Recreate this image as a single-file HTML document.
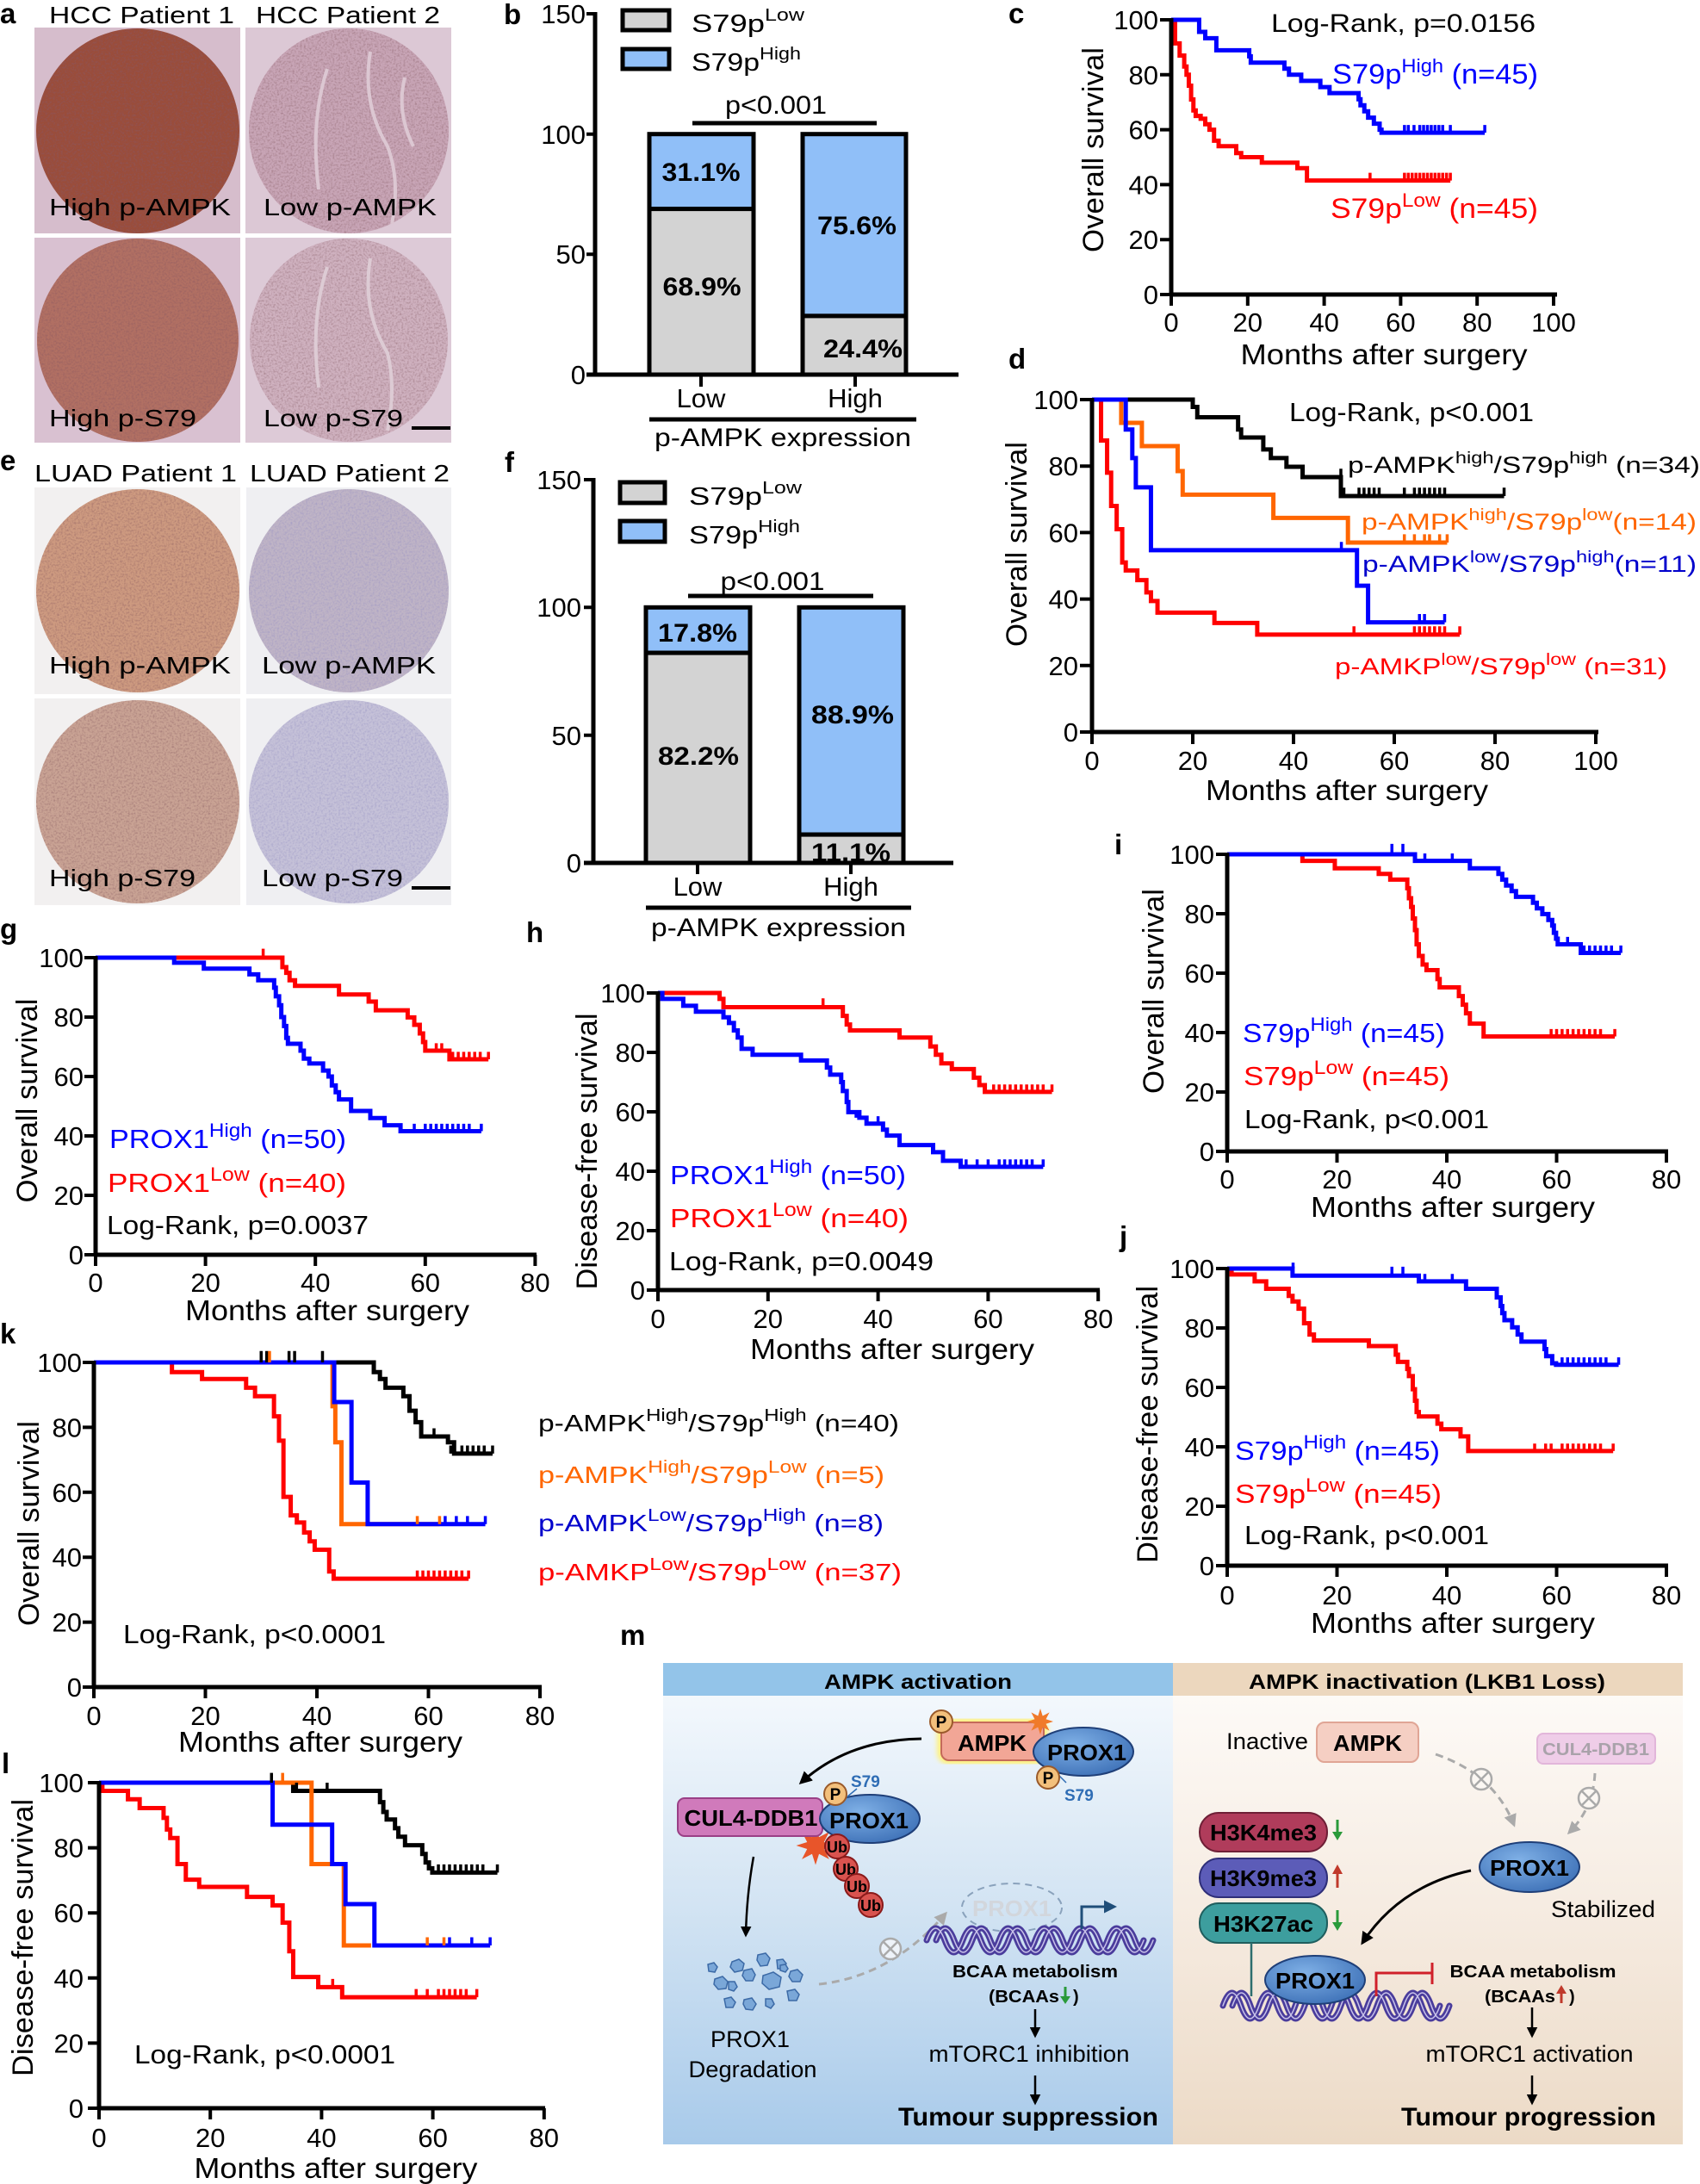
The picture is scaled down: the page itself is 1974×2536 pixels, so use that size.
<!DOCTYPE html>
<html><head><meta charset="utf-8">
<style>
html,body{margin:0;padding:0;background:#fff;}
svg{display:block;}
text{font-family:"Liberation Sans",sans-serif;}
.tk{font-size:31px;}
.km path{vector-effect:non-scaling-stroke;fill:none;stroke-width:5px;stroke-linejoin:miter;}
.cz path{vector-effect:non-scaling-stroke;fill:none;stroke-width:3.5px;}
.ax{stroke:#000;stroke-width:5;fill:none;}
.tm{stroke:#000;stroke-width:4;fill:none;}
.pl{font-weight:bold;font-size:33px;}
</style></head>
<body>
<svg width="1974" height="2536" viewBox="0 0 1974 2536" xmlns="http://www.w3.org/2000/svg">
<defs>
<linearGradient id="gl" x1="0" y1="0" x2="0" y2="1"><stop offset="0" stop-color="#f8fbfe"/><stop offset="0.5" stop-color="#d3e4f3"/><stop offset="1" stop-color="#a8caea"/></linearGradient>
<linearGradient id="gr" x1="0" y1="0" x2="0" y2="1"><stop offset="0" stop-color="#fefcfa"/><stop offset="0.5" stop-color="#f6ece2"/><stop offset="1" stop-color="#ecdac6"/></linearGradient>
<radialGradient id="el" cx="0.4" cy="0.35" r="0.7"><stop offset="0" stop-color="#7fb0e6"/><stop offset="1" stop-color="#3f72b8"/></radialGradient>
<marker id="ah" viewBox="0 0 10 10" refX="8" refY="5" markerWidth="5" markerHeight="5" orient="auto"><path d="M0,0 L10,5 L0,10 z" fill="#000"/></marker>
<marker id="ahg" viewBox="0 0 10 10" refX="8" refY="5" markerWidth="5" markerHeight="5" orient="auto"><path d="M0,0 L10,5 L0,10 z" fill="#aaa"/></marker>
<marker id="ahb" viewBox="0 0 10 10" refX="8" refY="5" markerWidth="5" markerHeight="5" orient="auto"><path d="M0,0 L10,5 L0,10 z" fill="#1f4e79"/></marker>
<filter id="blur"><feGaussianBlur stdDeviation="3"/></filter>
<filter id="grain" x="0" y="0" width="100%" height="100%">
<feTurbulence type="fractalNoise" baseFrequency="0.45" numOctaves="2" seed="5" result="n"/>
<feColorMatrix in="n" type="matrix" values="0 0 0 0 0.25  0 0 0 0 0.1  0 0 0 0 0.12  1.3 0 0 0 -0.55" result="dk"/>
<feComposite in="dk" in2="SourceGraphic" operator="in" result="d"/>
<feMerge><feMergeNode in="SourceGraphic"/><feMergeNode in="d"/></feMerge>
</filter>
<filter id="grainb" x="0" y="0" width="100%" height="100%">
<feTurbulence type="fractalNoise" baseFrequency="0.45" numOctaves="2" seed="9" result="n"/>
<feColorMatrix in="n" type="matrix" values="0 0 0 0 0.3  0 0 0 0 0.28  0 0 0 0 0.55  1.3 0 0 0 -0.55" result="dk"/>
<feComposite in="dk" in2="SourceGraphic" operator="in" result="d"/>
<feMerge><feMergeNode in="SourceGraphic"/><feMergeNode in="d"/></feMerge>
</filter>
</defs>
<rect width="1974" height="2536" fill="#fff"/>

<!-- ============ Panel a ============ -->
<text class="pl" x="0" y="27">a</text>
<text x="57" y="27" font-size="28" textLength="215" lengthAdjust="spacingAndGlyphs">HCC Patient 1</text>
<text x="297" y="27" font-size="28" textLength="214" lengthAdjust="spacingAndGlyphs">HCC Patient 2</text>
<rect x="40" y="32" width="239" height="239" fill="#d6bdcc"/>
<rect x="285" y="32" width="239" height="239" fill="#dcc8d5"/>
<rect x="40" y="276" width="239" height="238" fill="#d9c1d1"/>
<rect x="285" y="276" width="239" height="238" fill="#ddcad7"/>
<ellipse cx="160" cy="152" rx="118" ry="119" fill="#9a4d3b" filter="url(#grain)"/>
<ellipse cx="405" cy="152" rx="116" ry="119" fill="#c8a5b6" filter="url(#grain)"/>
<path d="M430,60 q-10,60 20,110 q15,40 5,90 M380,80 q-20,60 -10,140 M470,90 q-10,40 10,80" stroke="#dcc7d2" stroke-width="4" fill="none"/>
<ellipse cx="160" cy="395" rx="117" ry="118" fill="#b16f63" filter="url(#grain)"/>
<ellipse cx="405" cy="395" rx="115" ry="118" fill="#cfb1bf" filter="url(#grain)"/>
<path d="M430,300 q-10,60 20,110 q10,40 0,90 M380,310 q-20,60 -10,140" stroke="#ddcbd4" stroke-width="4" fill="none"/>
<text x="57" y="250" font-size="28" textLength="211" lengthAdjust="spacingAndGlyphs">High p-AMPK</text>
<text x="306" y="250" font-size="28" textLength="201" lengthAdjust="spacingAndGlyphs">Low p-AMPK</text>
<text x="57" y="495" font-size="28" textLength="171" lengthAdjust="spacingAndGlyphs">High p-S79</text>
<text x="306" y="495" font-size="28" textLength="162" lengthAdjust="spacingAndGlyphs">Low p-S79</text>
<rect x="478" y="495" width="45" height="4" fill="#000"/>

<!-- ============ Panel b ============ -->
<text class="pl" x="585" y="28">b</text>
<rect x="723" y="12" width="54" height="23" fill="#d3d3d3" stroke="#000" stroke-width="5"/>
<rect x="723" y="57" width="54" height="23" fill="#90bff8" stroke="#000" stroke-width="5"/>
<text x="803" y="37" font-size="29" textLength="131" lengthAdjust="spacingAndGlyphs">S79p<tspan dy="-13" font-size="20">Low</tspan></text>
<text x="803" y="82" font-size="29" textLength="127" lengthAdjust="spacingAndGlyphs">S79p<tspan dy="-13" font-size="20">High</tspan></text>
<text x="901" y="132" font-size="30" text-anchor="middle" textLength="118" lengthAdjust="spacingAndGlyphs">p&lt;0.001</text>
<path d="M804,143 H1018" class="ax"/>
<rect x="754" y="155.7" width="121" height="86.9" fill="#90bff8" stroke="#000" stroke-width="5"/>
<rect x="754" y="242.6" width="121" height="192.4" fill="#d3d3d3" stroke="#000" stroke-width="5"/>
<rect x="932" y="155.7" width="120" height="211.2" fill="#90bff8" stroke="#000" stroke-width="5"/>
<rect x="932" y="366.9" width="120" height="68.1" fill="#d3d3d3" stroke="#000" stroke-width="5"/>
<path d="M691,14 V437 M681,435 H1113" class="ax"/>
<path d="M681,16 H691 M681,155.7 H691 M681,295.3 H691 M814,435 V449 M993,435 V449" class="tm"/>
<g class="tk" text-anchor="end"><text x="680" y="27">150</text><text x="680" y="167">100</text><text x="680" y="306">50</text><text x="680" y="446">0</text></g>
<g font-weight="bold" font-size="30" text-anchor="middle">
<text x="814" y="210" textLength="91" lengthAdjust="spacingAndGlyphs">31.1%</text>
<text x="815" y="343" textLength="91" lengthAdjust="spacingAndGlyphs">68.9%</text>
<text x="995" y="272" textLength="92" lengthAdjust="spacingAndGlyphs">75.6%</text>
<text x="1002" y="415" textLength="92" lengthAdjust="spacingAndGlyphs">24.4%</text>
</g>
<g class="tk" text-anchor="middle"><text x="814" y="473">Low</text><text x="993" y="473">High</text></g>
<path d="M754,487 H1064" class="ax"/>
<text x="909" y="518" font-size="30" text-anchor="middle" textLength="298" lengthAdjust="spacingAndGlyphs">p-AMPK expression</text>

<!-- ============ Panel c ============ -->
<text class="pl" x="1171" y="27">c</text>
<text x="1476" y="37" font-size="30" textLength="307" lengthAdjust="spacingAndGlyphs">Log-Rank, p=0.0156</text>
<text x="1547" y="97" font-size="32" fill="#0000ff" textLength="239" lengthAdjust="spacingAndGlyphs">S79p<tspan dy="-13" font-size="22">High</tspan><tspan dy="13"> (n=45)</tspan></text>
<text x="1545" y="253" font-size="32" fill="#ff0000" textLength="241" lengthAdjust="spacingAndGlyphs">S79p<tspan dy="-13" font-size="22">Low</tspan><tspan dy="13"> (n=45)</tspan></text>
<text transform="translate(1281,174) rotate(-90)" font-size="34" text-anchor="middle" textLength="238" lengthAdjust="spacingAndGlyphs">Overall survival</text>
<text x="1607" y="423" font-size="33" text-anchor="middle" textLength="333" lengthAdjust="spacingAndGlyphs">Months after surgery</text>
<g class="km" transform="translate(1360,342) scale(4.44,-3.19)">
<path stroke="#ff0000" d="M0,100 H1 V91.4 H2.2 V87 H3.4 V83 H4 V80 H4.6 V76 H5.2 V71 H5.8 V67 H6.4 V65 H7.7 V64 H8.9 V62 H10 V60 H11.2 V56 H12.4 V54 H17 V51.5 H18.3 V50 H23.7 V48 H33 V46 H35.5 V41.5 H73"/>
<path stroke="#0000ff" d="M0,100 H7.3 V95.6 H8.9 V93.3 H11.8 V88.9 H20.4 V86.7 H20.8 V84.4 H29.6 V82.2 H30.8 V80 H34 V77.8 H39 V75.5 H41.4 V73.3 H49 V71.1 H49.5 V68.9 H50.5 V66.7 H51.5 V64.4 H53 V62.2 H54.5 V60 H55 V58.9 H82"/>
</g>
<g class="cz" transform="translate(1360,342) scale(4.44,-3.19)">
<path stroke="#0000ff" d="M61,58.9v2.8 M62,58.9v2.8 M63.5,58.9v2.8 M65,58.9v2.8 M66,58.9v2.8 M67,58.9v2.8 M68,58.9v2.8 M69,58.9v2.8 M70,58.9v2.8 M71,58.9v2.8 M73,58.9v2.8 M82,58.9v2.8"/>
<path stroke="#ff0000" d="M52,41.5v2.8 M61,41.5v2.8 M62,41.5v2.8 M63,41.5v2.8 M64,41.5v2.8 M65,41.5v2.8 M66,41.5v2.8 M67,41.5v2.8 M68,41.5v2.8 M69,41.5v2.8 M70,41.5v2.8 M71,41.5v2.8 M72,41.5v2.8 M73,41.5v2.8"/>
</g>
<path d="M1360,21 V344 M1358,342 H1808" class="ax"/>
<path d="M1347,23 H1360 M1347,86.8 H1360 M1347,150.6 H1360 M1347,214.4 H1360 M1347,278.2 H1360 M1347,342 H1360 M1360,342 V355 M1448.8,342 V355 M1537.6,342 V355 M1626.4,342 V355 M1715.2,342 V355 M1804,342 V355" class="tm"/>
<g class="tk" text-anchor="end"><text x="1345" y="34">100</text><text x="1345" y="97.8">80</text><text x="1345" y="161.6">60</text><text x="1345" y="225.4">40</text><text x="1345" y="289.2">20</text><text x="1345" y="353">0</text></g>
<g class="tk" text-anchor="middle"><text x="1360" y="385">0</text><text x="1448.8" y="385">20</text><text x="1537.6" y="385">40</text><text x="1626.4" y="385">60</text><text x="1715.2" y="385">80</text><text x="1804" y="385">100</text></g>

<!-- ============ Panel d ============ -->
<text class="pl" x="1171" y="428">d</text>
<text x="1497" y="489" font-size="31" textLength="284" lengthAdjust="spacingAndGlyphs">Log-Rank, p&lt;0.001</text>
<text x="1565" y="549" font-size="27" textLength="409" lengthAdjust="spacingAndGlyphs">p-AMPK<tspan dy="-11" font-size="19">high</tspan><tspan dy="11">/S79p</tspan><tspan dy="-11" font-size="19">high</tspan><tspan dy="11"> (n=34)</tspan></text>
<text x="1581" y="615" font-size="27" fill="#ff6600" textLength="389" lengthAdjust="spacingAndGlyphs">p-AMPK<tspan dy="-11" font-size="19">high</tspan><tspan dy="11">/S79p</tspan><tspan dy="-11" font-size="19">low</tspan><tspan dy="11">(n=14)</tspan></text>
<text x="1582" y="664" font-size="27" fill="#0000cc" textLength="388" lengthAdjust="spacingAndGlyphs">p-AMPK<tspan dy="-11" font-size="19">low</tspan><tspan dy="11">/S79p</tspan><tspan dy="-11" font-size="19">high</tspan><tspan dy="11">(n=11)</tspan></text>
<text x="1550" y="783" font-size="27" fill="#ff0000" textLength="386" lengthAdjust="spacingAndGlyphs">p-AMKP<tspan dy="-11" font-size="19">low</tspan><tspan dy="11">/S79p</tspan><tspan dy="-11" font-size="19">low</tspan><tspan dy="11"> (n=31)</tspan></text>
<text transform="translate(1192,632) rotate(-90)" font-size="34" text-anchor="middle" textLength="238" lengthAdjust="spacingAndGlyphs">Overall survival</text>
<text x="1564" y="929" font-size="33" text-anchor="middle" textLength="328" lengthAdjust="spacingAndGlyphs">Months after surgery</text>
<g class="km" transform="translate(1268,850) scale(5.85,-3.86)">
<path stroke="#000" d="M0,100 H20 V97.8 H20.9 V94.7 H29 V91 H29.6 V88.6 H34 V85 H35.5 V82.4 H38.6 V79.8 H41.8 V76.7 H49.4 V71 H81.8"/>
<path stroke="#ff6600" d="M0,100 H5.8 V93 H9.9 V86 H17 V78.5 H18 V71.4 H36 V64.4 H50.8 V57 H70.5"/>
<path stroke="#ff0000" d="M0,100 H1.8 V87.7 H3 V78 H3.8 V68 H4.9 V61 H6 V51 H6.7 V48.6 H9 V45.7 H10.8 V42 H11.7 V39.4 H13 V35.9 H24.3 V32.8 H32.8 V29.3 H73"/>
<path stroke="#0000ff" d="M0,100 H6.7 V91 H8 V82.4 H8.7 V73.6 H11.7 V54.7 H52.6 V44 H54.8 V33 H70"/>
</g>
<g class="cz" transform="translate(1268,850) scale(5.85,-3.86)">
<path stroke="#000" d="M50,71v2.5 M53,71v2.5 M54,71v2.5 M55,71v2.5 M56,71v2.5 M57,71v2.5 M62,71v2.5 M64,71v2.5 M65,71v2.5 M66,71v2.5 M67,71v2.5 M68,71v2.5 M69,71v2.5 M70,71v2.5 M81.8,71v2.5 M49.4,76.7v2.5"/>
<path stroke="#ff6600" d="M62,57v2.5 M64,57v2.5 M66,57v2.5 M67,57v2.5 M69,57v2.5 M70.5,57v2.5"/>
<path stroke="#0000ff" d="M49.5,54.7v2.5 M65,33v2.5 M66,33v2.5 M70,33v2.5"/>
<path stroke="#ff0000" d="M52,29.3v2.5 M64,29.3v2.5 M65,29.3v2.5 M66,29.3v2.5 M67,29.3v2.5 M68,29.3v2.5 M69,29.3v2.5 M70,29.3v2.5 M73,29.3v2.5"/>
</g>
<path d="M1268,462 V852 M1266,850 H1856" class="ax"/>
<path d="M1254,464 H1268 M1254,541.2 H1268 M1254,618.4 H1268 M1254,695.6 H1268 M1254,772.8 H1268 M1254,850 H1268 M1268,850 V864 M1385,850 V864 M1502,850 V864 M1619,850 V864 M1736,850 V864 M1853,850 V864" class="tm"/>
<g class="tk" text-anchor="end"><text x="1252" y="475">100</text><text x="1252" y="552.2">80</text><text x="1252" y="629.4">60</text><text x="1252" y="706.6">40</text><text x="1252" y="783.8">20</text><text x="1252" y="861">0</text></g>
<g class="tk" text-anchor="middle"><text x="1268" y="894">0</text><text x="1385" y="894">20</text><text x="1502" y="894">40</text><text x="1619" y="894">60</text><text x="1736" y="894">80</text><text x="1853" y="894">100</text></g>

<!-- ============ Panel e ============ -->
<text class="pl" x="0" y="546">e</text>
<text x="40" y="559" font-size="28" textLength="235" lengthAdjust="spacingAndGlyphs">LUAD Patient 1</text>
<text x="290" y="559" font-size="28" textLength="232" lengthAdjust="spacingAndGlyphs">LUAD Patient 2</text>
<rect x="40" y="566" width="239" height="240" fill="#f2f0f0"/>
<rect x="286" y="566" width="238" height="240" fill="#efeff2"/>
<rect x="40" y="811" width="239" height="240" fill="#f2f0f0"/>
<rect x="286" y="811" width="238" height="240" fill="#efeff2"/>
<ellipse cx="160" cy="686" rx="118" ry="118" fill="#cd9a80" filter="url(#grain)"/>
<ellipse cx="405" cy="686" rx="116" ry="118" fill="#bfb4c6" filter="url(#grainb)"/>
<ellipse cx="160" cy="931" rx="118" ry="118" fill="#c9a394" filter="url(#grain)"/>
<ellipse cx="405" cy="931" rx="116" ry="118" fill="#c5c1d8" filter="url(#grainb)"/>
<text x="57" y="782" font-size="28" textLength="211" lengthAdjust="spacingAndGlyphs">High p-AMPK</text>
<text x="304" y="782" font-size="28" textLength="202" lengthAdjust="spacingAndGlyphs">Low p-AMPK</text>
<text x="57" y="1029" font-size="28" textLength="170" lengthAdjust="spacingAndGlyphs">High p-S79</text>
<text x="304" y="1029" font-size="28" textLength="164" lengthAdjust="spacingAndGlyphs">Low p-S79</text>
<rect x="478" y="1029" width="45" height="4" fill="#000"/>

<!-- ============ Panel f ============ -->
<text class="pl" x="586" y="548">f</text>
<rect x="720" y="560" width="52" height="24" fill="#d3d3d3" stroke="#000" stroke-width="5"/>
<rect x="720" y="605" width="52" height="24" fill="#90bff8" stroke="#000" stroke-width="5"/>
<text x="800" y="586" font-size="29" textLength="131" lengthAdjust="spacingAndGlyphs">S79p<tspan dy="-13" font-size="20">Low</tspan></text>
<text x="800" y="631" font-size="29" textLength="129" lengthAdjust="spacingAndGlyphs">S79p<tspan dy="-13" font-size="20">High</tspan></text>
<text x="897" y="685" font-size="30" text-anchor="middle" textLength="121" lengthAdjust="spacingAndGlyphs">p&lt;0.001</text>
<path d="M799,692 H1014" class="ax"/>
<rect x="750" y="705.3" width="121" height="52.8" fill="#90bff8" stroke="#000" stroke-width="5"/>
<rect x="750" y="758.1" width="121" height="243.9" fill="#d3d3d3" stroke="#000" stroke-width="5"/>
<rect x="928" y="705.3" width="121" height="263.8" fill="#90bff8" stroke="#000" stroke-width="5"/>
<rect x="928" y="969.1" width="121" height="32.9" fill="#d3d3d3" stroke="#000" stroke-width="5"/>
<path d="M689,555 V1004 M678,1002 H1107" class="ax"/>
<path d="M678,557 H689 M678,705.3 H689 M678,853.7 H689 M810,1002 V1015 M988,1002 V1015" class="tm"/>
<g class="tk" text-anchor="end"><text x="675" y="568">150</text><text x="675" y="716">100</text><text x="675" y="865">50</text><text x="675" y="1013">0</text></g>
<g font-weight="bold" font-size="30" text-anchor="middle">
<text x="810" y="745" textLength="92" lengthAdjust="spacingAndGlyphs">17.8%</text>
<text x="811" y="888" textLength="94" lengthAdjust="spacingAndGlyphs">82.2%</text>
<text x="990" y="840" textLength="96" lengthAdjust="spacingAndGlyphs">88.9%</text>
<text x="988" y="1000" textLength="92" lengthAdjust="spacingAndGlyphs">11.1%</text>
</g>
<g class="tk" text-anchor="middle"><text x="810" y="1040">Low</text><text x="988" y="1040">High</text></g>
<path d="M750,1054 H1058" class="ax"/>
<text x="904" y="1087" font-size="30" text-anchor="middle" textLength="296" lengthAdjust="spacingAndGlyphs">p-AMPK expression</text>

<!-- ============ Panel g ============ -->
<text class="pl" x="0" y="1090">g</text>
<text x="127" y="1333" font-size="31" fill="#0000ff" textLength="275" lengthAdjust="spacingAndGlyphs">PROX1<tspan dy="-13" font-size="22">High</tspan><tspan dy="13"> (n=50)</tspan></text>
<text x="125" y="1384" font-size="31" fill="#ff0000" textLength="277" lengthAdjust="spacingAndGlyphs">PROX1<tspan dy="-13" font-size="22">Low</tspan><tspan dy="13"> (n=40)</tspan></text>
<text x="124" y="1433" font-size="31" textLength="304" lengthAdjust="spacingAndGlyphs">Log-Rank, p=0.0037</text>
<text transform="translate(43,1278) rotate(-90)" font-size="34" text-anchor="middle" textLength="237" lengthAdjust="spacingAndGlyphs">Overall survival</text>
<text x="380" y="1533" font-size="33" text-anchor="middle" textLength="330" lengthAdjust="spacingAndGlyphs">Months after surgery</text>
<g class="km" transform="translate(111,1457) scale(6.38,-3.45)">
<path stroke="#ff0000" d="M0,100 H34 V96.8 H34.7 V94.9 H35.3 V92.4 H36.3 V90.5 H44.3 V87.6 H49.7 V85.2 H51 V82.3 H56.8 V79.9 H58 V77.4 H59 V74.5 H59.6 V71.6 H60 V68.7 H64.4 V65.8 H71.5"/>
<path stroke="#0000ff" d="M0,100 H14.3 V98.3 H19.7 V96.3 H28 V94.4 H29.6 V92.4 H32.5 V89.9 H32.8 V87 H33.4 V84 H33.8 V80 H34.3 V77 H34.7 V73 H35 V71 H37.3 V68.7 H37.9 V66 H38.9 V64.4 H41.4 V62 H42.4 V60 H43 V57 H43.7 V54.7 H44.3 V52.3 H46.5 V48.4 H50 V46 H52.6 V43.6 H55.5 V41.6 H70.2"/>
</g>
<g class="cz" transform="translate(111,1457) scale(6.38,-3.45)">
<path stroke="#ff0000" d="M30.5,100v3 M62,68.7v2.5 M63,68.7v2.5 M65,65.8v2.5 M66,65.8v2.5 M67,65.8v2.5 M68,65.8v2.5 M69,65.8v2.5 M70,65.8v2.5 M71.5,65.8v2.5"/>
<path stroke="#0000ff" d="M58,41.6v2.5 M60,41.6v2.5 M61,41.6v2.5 M62,41.6v2.5 M63,41.6v2.5 M64,41.6v2.5 M65,41.6v2.5 M66,41.6v2.5 M67,41.6v2.5 M68,41.6v2.5 M70.2,41.6v2.5"/>
</g>
<path d="M111,1110 V1459 M109,1457 H623" class="ax"/>
<path d="M98,1112 H111 M98,1181 H111 M98,1250 H111 M98,1319 H111 M98,1388 H111 M98,1457 H111 M111,1457 V1470 M238.6,1457 V1470 M366.2,1457 V1470 M493.8,1457 V1470 M621.4,1457 V1470" class="tm"/>
<g class="tk" text-anchor="end"><text x="97" y="1123">100</text><text x="97" y="1192">80</text><text x="97" y="1261">60</text><text x="97" y="1330">40</text><text x="97" y="1399">20</text><text x="97" y="1468">0</text></g>
<g class="tk" text-anchor="middle"><text x="111" y="1500">0</text><text x="238.6" y="1500">20</text><text x="366.2" y="1500">40</text><text x="493.8" y="1500">60</text><text x="621.4" y="1500">80</text></g>

<!-- ============ Panel h ============ -->
<text class="pl" x="611" y="1094">h</text>
<text x="778" y="1375" font-size="31" fill="#0000ff" textLength="274" lengthAdjust="spacingAndGlyphs">PROX1<tspan dy="-13" font-size="22">High</tspan><tspan dy="13"> (n=50)</tspan></text>
<text x="778" y="1425" font-size="31" fill="#ff0000" textLength="277" lengthAdjust="spacingAndGlyphs">PROX1<tspan dy="-13" font-size="22">Low</tspan><tspan dy="13"> (n=40)</tspan></text>
<text x="777" y="1475" font-size="31" textLength="307" lengthAdjust="spacingAndGlyphs">Log-Rank, p=0.0049</text>
<text transform="translate(693,1337) rotate(-90)" font-size="34" text-anchor="middle" textLength="321" lengthAdjust="spacingAndGlyphs">Disease-free survival</text>
<text x="1036" y="1578" font-size="33" text-anchor="middle" textLength="330" lengthAdjust="spacingAndGlyphs">Months after surgery</text>
<g class="km" transform="translate(764,1498) scale(6.39,-3.45)">
<path stroke="#ff0000" d="M0,100 H11.2 V98 H11.9 V95.2 H33.6 V92.3 H34.3 V89.4 H34.9 V87.4 H43.9 V85 H49.5 V82 H50.5 V79.2 H51.5 V76.3 H53.4 V74.4 H57.4 V71.5 H58.4 V69 H59.4 V66.7 H71.6"/>
<path stroke="#0000ff" d="M0,100 H0.8 V98 H4.6 V95.7 H6.9 V93.7 H11.9 V91.8 H12.9 V89.9 H13.8 V87.4 H14.5 V85 H15.2 V81.2 H17.2 V79.2 H26 V77.3 H30.7 V74.9 H31.3 V72.5 H33.3 V70 H33.6 V67 H34.3 V63.3 H34.6 V59.9 H36.6 V58 H37.9 V56 H40.9 V54 H41.6 V52 H43.9 V48.8 H50 V46.4 H51.8 V43.5 H55 V41.5 H70"/>
</g>
<g class="cz" transform="translate(764,1498) scale(6.39,-3.45)">
<path stroke="#ff0000" d="M30,95.2v3 M61,66.7v2.5 M62,66.7v2.5 M63,66.7v2.5 M64,66.7v2.5 M65,66.7v2.5 M66,66.7v2.5 M67,66.7v2.5 M68,66.7v2.5 M69,66.7v2.5 M70,66.7v2.5 M71.6,66.7v2.5"/>
<path stroke="#0000ff" d="M36,58v2.5 M40,56v2.5 M56,41.5v2.5 M58,41.5v2.5 M60,41.5v2.5 M62,41.5v2.5 M63,41.5v2.5 M64,41.5v2.5 M65,41.5v2.5 M66,41.5v2.5 M67,41.5v2.5 M68,41.5v2.5 M70,41.5v2.5"/>
</g>
<path d="M764,1151 V1500 M762,1498 H1277" class="ax"/>
<path d="M751,1153 H764 M751,1222 H764 M751,1291 H764 M751,1360 H764 M751,1429 H764 M751,1498 H764 M764,1498 V1511 M891.8,1498 V1511 M1019.6,1498 V1511 M1147.4,1498 V1511 M1275.2,1498 V1511" class="tm"/>
<g class="tk" text-anchor="end"><text x="749" y="1164">100</text><text x="749" y="1233">80</text><text x="749" y="1302">60</text><text x="749" y="1371">40</text><text x="749" y="1440">20</text><text x="749" y="1509">0</text></g>
<g class="tk" text-anchor="middle"><text x="764" y="1542">0</text><text x="891.8" y="1542">20</text><text x="1019.6" y="1542">40</text><text x="1147.4" y="1542">60</text><text x="1275.2" y="1542">80</text></g>

<!-- ============ Panel i ============ -->
<text class="pl" x="1294" y="992">i</text>
<text x="1443" y="1210" font-size="31" fill="#0000ff" textLength="235" lengthAdjust="spacingAndGlyphs">S79p<tspan dy="-13" font-size="22">High</tspan><tspan dy="13"> (n=45)</tspan></text>
<text x="1444" y="1260" font-size="31" fill="#ff0000" textLength="239" lengthAdjust="spacingAndGlyphs">S79p<tspan dy="-13" font-size="22">Low</tspan><tspan dy="13"> (n=45)</tspan></text>
<text x="1445" y="1310" font-size="31" textLength="284" lengthAdjust="spacingAndGlyphs">Log-Rank, p&lt;0.001</text>
<text transform="translate(1351,1151) rotate(-90)" font-size="34" text-anchor="middle" textLength="238" lengthAdjust="spacingAndGlyphs">Overall survival</text>
<text x="1687" y="1413" font-size="33" text-anchor="middle" textLength="330" lengthAdjust="spacingAndGlyphs">Months after surgery</text>
<g class="km" transform="translate(1425,1337) scale(6.375,-3.45)">
<path stroke="#ff0000" d="M0,100 H13.7 V97.8 H19.6 V95.3 H27.6 V93.4 H29.7 V91.5 H32.8 V88.6 H33.1 V85.2 H33.5 V82.3 H33.8 V78.4 H34.2 V74.5 H34.5 V69.7 H34.9 V65.8 H35.6 V62.9 H36.3 V61 H38.3 V58 H38.7 V55.2 H42.2 V52.3 H42.9 V49.4 H43.5 V46.5 H44.2 V43 H46.7 V38.7 H70.6"/>
<path stroke="#0000ff" d="M0,100 H34.2 V97.8 H44.2 V95.3 H49.4 V93.4 H50.1 V91.5 H50.8 V89.5 H51.8 V87.6 H52.6 V85.7 H55.7 V83.7 H56.4 V81.8 H57.4 V79.9 H58.5 V77.9 H59.2 V76 H59.5 V73.6 H59.9 V71.6 H60.2 V69.7 H64.4 V66.8 H71.7"/>
</g>
<g class="cz" transform="translate(1425,1337) scale(6.375,-3.45)">
<path stroke="#0000ff" d="M30,100v3.5 M32,100v3.5 M36,97.8v2.5 M41,97.8v2.5 M62,69.7v2.5 M65,66.8v2.5 M66,66.8v2.5 M67,66.8v2.5 M68,66.8v2.5 M69,66.8v2.5 M70,66.8v2.5 M71.7,66.8v2.5"/>
<path stroke="#ff0000" d="M59,38.7v2.5 M60,38.7v2.5 M61,38.7v2.5 M62,38.7v2.5 M63,38.7v2.5 M64,38.7v2.5 M65,38.7v2.5 M66,38.7v2.5 M67,38.7v2.5 M68,38.7v2.5 M70.6,38.7v2.5"/>
</g>
<path d="M1425,990 V1339 M1423,1337 H1937" class="ax"/>
<path d="M1412,992 H1425 M1412,1061 H1425 M1412,1130 H1425 M1412,1199 H1425 M1412,1268 H1425 M1412,1337 H1425 M1425,1337 V1350 M1552.5,1337 V1350 M1680,1337 V1350 M1807.5,1337 V1350 M1935,1337 V1350" class="tm"/>
<g class="tk" text-anchor="end"><text x="1410" y="1003">100</text><text x="1410" y="1072">80</text><text x="1410" y="1141">60</text><text x="1410" y="1210">40</text><text x="1410" y="1279">20</text><text x="1410" y="1348">0</text></g>
<g class="tk" text-anchor="middle"><text x="1425" y="1380">0</text><text x="1552.5" y="1380">20</text><text x="1680" y="1380">40</text><text x="1807.5" y="1380">60</text><text x="1935" y="1380">80</text></g>

<!-- ============ Panel j ============ -->
<text class="pl" x="1300" y="1447">j</text>
<text x="1434" y="1695" font-size="31" fill="#0000ff" textLength="238" lengthAdjust="spacingAndGlyphs">S79p<tspan dy="-13" font-size="22">High</tspan><tspan dy="13"> (n=45)</tspan></text>
<text x="1434" y="1745" font-size="31" fill="#ff0000" textLength="240" lengthAdjust="spacingAndGlyphs">S79p<tspan dy="-13" font-size="22">Low</tspan><tspan dy="13"> (n=45)</tspan></text>
<text x="1445" y="1793" font-size="31" textLength="284" lengthAdjust="spacingAndGlyphs">Log-Rank, p&lt;0.001</text>
<text transform="translate(1344,1654) rotate(-90)" font-size="34" text-anchor="middle" textLength="322" lengthAdjust="spacingAndGlyphs">Disease-free survival</text>
<text x="1687" y="1896" font-size="33" text-anchor="middle" textLength="330" lengthAdjust="spacingAndGlyphs">Months after surgery</text>
<g class="km" transform="translate(1425,1818) scale(6.375,-3.45)">
<path stroke="#ff0000" d="M0,100 H0.8 V98 H5 V95.7 H7.1 V93.2 H11.2 V90.8 H11.9 V88.9 H13 V86.5 H14 V81.6 H15 V77.8 H15.8 V75.8 H25.8 V73.9 H30.7 V71 H31.1 V68.6 H32.8 V66.2 H33.1 V63.8 H33.8 V59.4 H34.2 V55.5 H34.5 V51.7 H34.9 V50.2 H38.3 V47.8 H39 V45.9 H42.5 V43.5 H43.9 V38.6 H70.3"/>
<path stroke="#0000ff" d="M0,100 H11.9 V97.6 H34.9 V95.7 H43.5 V93.2 H49.1 V90.3 H49.8 V87.4 H50.1 V85 H50.5 V82.6 H51.9 V80.2 H52.9 V77.8 H53.6 V75.4 H57.8 V72.9 H58.1 V70.5 H59.2 V68.1 H59.9 V67.6 H71.3"/>
</g>
<g class="cz" transform="translate(1425,1818) scale(6.375,-3.45)">
<path stroke="#0000ff" d="M12,100v2 M30,97.6v3 M32,97.6v3 M36,95.7v2.5 M41,95.7v2.5 M61,67.6v2.5 M62,67.6v2.5 M63,67.6v2.5 M64,67.6v2.5 M65,67.6v2.5 M66,67.6v2.5 M67,67.6v2.5 M68,67.6v2.5 M69,67.6v2.5 M71.3,67.6v2.5"/>
<path stroke="#ff0000" d="M56,38.6v2.5 M58,38.6v2.5 M59,38.6v2.5 M61,38.6v2.5 M62,38.6v2.5 M63,38.6v2.5 M64,38.6v2.5 M65,38.6v2.5 M66,38.6v2.5 M67,38.6v2.5 M68,38.6v2.5 M70.3,38.6v2.5"/>
</g>
<path d="M1425,1471 V1820 M1423,1818 H1937" class="ax"/>
<path d="M1412,1473 H1425 M1412,1542 H1425 M1412,1611 H1425 M1412,1680 H1425 M1412,1749 H1425 M1412,1818 H1425 M1425,1818 V1831 M1552.5,1818 V1831 M1680,1818 V1831 M1807.5,1818 V1831 M1935,1818 V1831" class="tm"/>
<g class="tk" text-anchor="end"><text x="1410" y="1484">100</text><text x="1410" y="1553">80</text><text x="1410" y="1622">60</text><text x="1410" y="1691">40</text><text x="1410" y="1760">20</text><text x="1410" y="1829">0</text></g>
<g class="tk" text-anchor="middle"><text x="1425" y="1863">0</text><text x="1552.5" y="1863">20</text><text x="1680" y="1863">40</text><text x="1807.5" y="1863">60</text><text x="1935" y="1863">80</text></g>

<!-- ============ Panel k ============ -->
<text class="pl" x="0" y="1560">k</text>
<text x="625" y="1662" font-size="28" textLength="419" lengthAdjust="spacingAndGlyphs">p-AMPK<tspan dy="-12" font-size="20">High</tspan><tspan dy="12">/S79p</tspan><tspan dy="-12" font-size="20">High</tspan><tspan dy="12"> (n=40)</tspan></text>
<text x="625" y="1722" font-size="28" fill="#ff6600" textLength="402" lengthAdjust="spacingAndGlyphs">p-AMPK<tspan dy="-12" font-size="20">High</tspan><tspan dy="12">/S79p</tspan><tspan dy="-12" font-size="20">Low</tspan><tspan dy="12"> (n=5)</tspan></text>
<text x="625" y="1778" font-size="28" fill="#0000cc" textLength="401" lengthAdjust="spacingAndGlyphs">p-AMPK<tspan dy="-12" font-size="20">Low</tspan><tspan dy="12">/S79p</tspan><tspan dy="-12" font-size="20">High</tspan><tspan dy="12"> (n=8)</tspan></text>
<text x="625" y="1835" font-size="28" fill="#ff0000" textLength="422" lengthAdjust="spacingAndGlyphs">p-AMKP<tspan dy="-12" font-size="20">Low</tspan><tspan dy="12">/S79p</tspan><tspan dy="-12" font-size="20">Low</tspan><tspan dy="12"> (n=37)</tspan></text>
<text x="143" y="1908" font-size="31" textLength="305" lengthAdjust="spacingAndGlyphs">Log-Rank, p&lt;0.0001</text>
<text transform="translate(45,1769) rotate(-90)" font-size="34" text-anchor="middle" textLength="238" lengthAdjust="spacingAndGlyphs">Overall survival</text>
<text x="372" y="2034" font-size="33" text-anchor="middle" textLength="330" lengthAdjust="spacingAndGlyphs">Months after surgery</text>
<g class="km" transform="translate(109,1959) scale(6.475,-3.77)">
<path stroke="#000" d="M0,100 H50.2 V97 H51.3 V94.9 H52.3 V92.2 H55.5 V89.6 H56.6 V85.1 H57.7 V81.6 H58.7 V77.2 H63.5 V75.4 H64.6 V71.9 H71.5"/>
<path stroke="#ff0000" d="M0,100 H14 V97 H19.4 V94.9 H27.3 V92.2 H28.9 V89.6 H32.3 V83.4 H33.2 V75.9 H34 V58.6 H35.3 V52.9 H36.4 V50.7 H37.7 V47.6 H38.7 V44.9 H39.6 V42.3 H42.2 V35.6 H43 V33.4 H67.2"/>
<path stroke="#ff6600" d="M0,100 H42.8 V86.5 H43.3 V75.4 H44.4 V50.2 H62"/>
<path stroke="#0000ff" d="M0,100 H43.1 V87.8 H46.2 V63 H49.1 V50.2 H70.2"/>
</g>
<g class="cz" transform="translate(109,1959) scale(6.475,-3.77)">
<path stroke="#000" d="M30,100v3.5 M31,100v3.5 M35,100v3.5 M36,100v3.5 M41,100v3.5 M64,71.9v2.5 M66,71.9v2.5 M67,71.9v2.5 M68,71.9v2.5 M69,71.9v2.5 M70,71.9v2.5 M71.5,71.9v2.5 M61,77.2v2.5"/>
<path stroke="#ff6600" d="M31.5,100v3.5 M58,50.2v2.5 M62,50.2v2.5"/>
<path stroke="#0000ff" d="M63,50.2v2.5 M65,50.2v2.5 M67,50.2v2.5 M70.2,50.2v2.5"/>
<path stroke="#ff0000" d="M58,33.4v2.5 M59,33.4v2.5 M60,33.4v2.5 M61,33.4v2.5 M62,33.4v2.5 M63,33.4v2.5 M64,33.4v2.5 M65,33.4v2.5 M66,33.4v2.5 M67.2,33.4v2.5"/>
</g>
<path d="M109,1580 V1961 M107,1959 H629" class="ax"/>
<path d="M96,1582 H109 M96,1657.4 H109 M96,1732.8 H109 M96,1808.2 H109 M96,1883.6 H109 M96,1959 H109 M109,1959 V1972 M238.5,1959 V1972 M368,1959 V1972 M497.5,1959 V1972 M627,1959 V1972" class="tm"/>
<g class="tk" text-anchor="end"><text x="95" y="1593">100</text><text x="95" y="1668.4">80</text><text x="95" y="1743.8">60</text><text x="95" y="1819.2">40</text><text x="95" y="1894.6">20</text><text x="95" y="1970">0</text></g>
<g class="tk" text-anchor="middle"><text x="109" y="2003">0</text><text x="238.5" y="2003">20</text><text x="368" y="2003">40</text><text x="497.5" y="2003">60</text><text x="627" y="2003">80</text></g>

<!-- ============ Panel l ============ -->
<text class="pl" x="2" y="2059">l</text>
<text x="156" y="2396" font-size="31" textLength="303" lengthAdjust="spacingAndGlyphs">Log-Rank, p&lt;0.0001</text>
<text transform="translate(38,2250) rotate(-90)" font-size="34" text-anchor="middle" textLength="322" lengthAdjust="spacingAndGlyphs">Disease-free survival</text>
<text x="390" y="2529" font-size="33" text-anchor="middle" textLength="329" lengthAdjust="spacingAndGlyphs">Months after surgery</text>
<g class="km" transform="translate(115,2448) scale(6.46,-3.78)">
<path stroke="#000" d="M0,100 H34.9 V97.5 H50.5 V94 H51.1 V91 H51.7 V88.7 H53.2 V86 H53.8 V83.4 H55 V80.8 H58.1 V78.1 H58.7 V75.5 H59.3 V73.7 H59.9 V72.4 H71.6"/>
<path stroke="#ff6600" d="M0,100 H38.2 V75 H44 V50 H48.9"/>
<path stroke="#ff0000" d="M0,100 H0.6 V97.5 H5.2 V94.9 H7.3 V92.2 H11.6 V89.2 H12.2 V85.6 H12.8 V83 H14.1 V75 H15.6 V70.2 H18 V68 H26.6 V64.9 H31.2 V62.3 H33 V57 H34.2 V48.2 H34.9 V40.3 H39.4 V37.2 H43.7 V34.1 H67.9"/>
<path stroke="#0000ff" d="M0,100 H31.2 V87.1 H41.9 V75 H44.3 V62.7 H49.5 V50 H70.3"/>
</g>
<g class="cz" transform="translate(115,2448) scale(6.46,-3.78)">
<path stroke="#000" d="M31,100v3 M35.5,97.5v2.5 M41,97.5v2.5 M61,72.4v2.5 M62,72.4v2.5 M63,72.4v2.5 M64,72.4v2.5 M65,72.4v2.5 M66,72.4v2.5 M67,72.4v2.5 M68,72.4v2.5 M69,72.4v2.5 M71.6,72.4v2.5"/>
<path stroke="#ff6600" d="M33,100v3 M59,50v2.5 M62,50v2.5"/>
<path stroke="#0000ff" d="M63,50v2.5 M67,50v2.5 M70.3,50v2.5"/>
<path stroke="#ff0000" d="M42,37.2v2.5 M57,34.1v2.5 M59,34.1v2.5 M61,34.1v2.5 M62,34.1v2.5 M63,34.1v2.5 M64,34.1v2.5 M65,34.1v2.5 M66,34.1v2.5 M67.9,34.1v2.5"/>
</g>
<path d="M115,2068 V2450 M113,2448 H633" class="ax"/>
<path d="M102,2070 H115 M102,2145.6 H115 M102,2221.2 H115 M102,2296.8 H115 M102,2372.4 H115 M102,2448 H115 M115,2448 V2461 M244.2,2448 V2461 M373.4,2448 V2461 M502.6,2448 V2461 M631.8,2448 V2461" class="tm"/>
<g class="tk" text-anchor="end"><text x="97" y="2081">100</text><text x="97" y="2156.6">80</text><text x="97" y="2232.2">60</text><text x="97" y="2307.8">40</text><text x="97" y="2383.4">20</text><text x="97" y="2459">0</text></g>
<g class="tk" text-anchor="middle"><text x="115" y="2493">0</text><text x="244.2" y="2493">20</text><text x="373.4" y="2493">40</text><text x="502.6" y="2493">60</text><text x="631.8" y="2493">80</text></g>

<!-- ============ Panel m ============ -->
<text class="pl" x="720" y="1910">m</text>
<rect x="770" y="1931" width="592" height="559" fill="url(#gl)"/>
<rect x="770" y="1931" width="592" height="38" fill="#93c4e9"/>
<text x="1066" y="1961" text-anchor="middle" font-weight="bold" font-size="24" textLength="218" lengthAdjust="spacingAndGlyphs">AMPK activation</text>
<rect x="1362" y="1931" width="592" height="559" fill="url(#gr)"/>
<rect x="1362" y="1931" width="592" height="38" fill="#ecd7be"/>
<text x="1657" y="1961" text-anchor="middle" font-weight="bold" font-size="24" textLength="414" lengthAdjust="spacingAndGlyphs">AMPK inactivation (LKB1 Loss)</text>

<!-- left diagram -->
<path d="M1070,2019 Q985,2020 930,2070" stroke="#000" stroke-width="3" fill="none" marker-end="url(#ah)"/>
<rect x="1093" y="2000" width="119" height="44" rx="9" fill="none" stroke="#fff17a" stroke-width="10" filter="url(#blur)"/>
<rect x="1093" y="2000" width="119" height="44" rx="9" fill="#f2a696" stroke="#c46a5a" stroke-width="2"/>
<g transform="translate(1208,1999)"><polygon points="15,0 6.5,2.7 10.6,10.6 2.7,6.5 0,15 -2.7,6.5 -10.6,10.6 -6.5,2.7 -15,0 -6.5,-2.7 -10.6,-10.6 -2.7,-6.5 0,-15 2.7,-6.5 10.6,-10.6 6.5,-2.7" fill="#f07a2a"/></g>
<text x="1152" y="2033" text-anchor="middle" font-weight="bold" font-size="26" textLength="80" lengthAdjust="spacingAndGlyphs">AMPK</text>
<ellipse cx="1258" cy="2034" rx="58" ry="28" fill="url(#el)" stroke="#1f3f78" stroke-width="2"/>
<text x="1262" y="2044" text-anchor="middle" font-weight="bold" font-size="26" textLength="92" lengthAdjust="spacingAndGlyphs">PROX1</text>
<circle cx="1093" cy="1999" r="13" fill="#f3c07c" stroke="#9a5a2a" stroke-width="2"/>
<text x="1093" y="2006" text-anchor="middle" font-weight="bold" font-size="19">P</text>
<path d="M1228,2060 L1238,2070" stroke="#2f6db5" stroke-width="1.5"/>
<circle cx="1217" cy="2064" r="13" fill="#f3c07c" stroke="#9a5a2a" stroke-width="2"/>
<text x="1217" y="2071" text-anchor="middle" font-weight="bold" font-size="19">P</text>
<text x="1236" y="2091" font-weight="bold" font-size="19" fill="#2f6db5">S79</text>

<g transform="translate(947,2143) scale(1.5)"><polygon points="15,0 6.5,2.7 10.6,10.6 2.7,6.5 0,15 -2.7,6.5 -10.6,10.6 -6.5,2.7 -15,0 -6.5,-2.7 -10.6,-10.6 -2.7,-6.5 0,-15 2.7,-6.5 10.6,-10.6 6.5,-2.7" fill="#e8552a"/></g>
<rect x="787" y="2088" width="168" height="44" rx="8" fill="#d07abb" stroke="#9a3f86" stroke-width="2"/>
<text x="872" y="2120" text-anchor="middle" font-weight="bold" font-size="26" textLength="155" lengthAdjust="spacingAndGlyphs">CUL4-DDB1</text>
<ellipse cx="1010" cy="2112" rx="58" ry="28" fill="url(#el)" stroke="#1f3f78" stroke-width="2"/>
<text x="1009" y="2123" text-anchor="middle" font-weight="bold" font-size="26" textLength="92" lengthAdjust="spacingAndGlyphs">PROX1</text>
<path d="M983,2087 L995,2077" stroke="#2f6db5" stroke-width="1.5"/>
<circle cx="970" cy="2083" r="13" fill="#f3c07c" stroke="#9a5a2a" stroke-width="2"/>
<text x="970" y="2090" text-anchor="middle" font-weight="bold" font-size="19">P</text>
<text x="988" y="2075" font-weight="bold" font-size="19" fill="#2f6db5">S79</text>
<g fill="#d9534f" stroke="#8a1a1a" stroke-width="2" font-weight="bold" font-size="18">
<circle cx="972" cy="2144" r="14"/><text x="972" y="2151" text-anchor="middle" fill="#000" stroke="none">Ub</text>
<circle cx="982" cy="2170" r="14"/><text x="982" y="2177" text-anchor="middle" fill="#000" stroke="none">Ub</text>
<circle cx="995" cy="2190" r="14"/><text x="995" y="2197" text-anchor="middle" fill="#000" stroke="none">Ub</text>
<circle cx="1011" cy="2212" r="14"/><text x="1011" y="2219" text-anchor="middle" fill="#000" stroke="none">Ub</text>
</g>
<path d="M875,2156 Q867,2200 866,2247" stroke="#000" stroke-width="2.5" fill="none" marker-end="url(#ah)"/>
<g fill="#7aa7d8" stroke="#3c6aa6" stroke-width="1.5">
<path d="M850,2278 l8,-3 l6,5 l-2,8 l-9,2 l-5,-6 z"/>
<path d="M880,2270 l9,-2 l5,6 l-3,8 l-8,1 l-4,-7 z"/>
<path d="M902,2276 l7,-1 l4,5 l-3,6 l-7,0 z"/>
<path d="M918,2289 l8,-2 l6,6 l-3,8 l-9,0 l-4,-6 z"/>
<path d="M830,2298 l9,-3 l6,6 l-2,8 l-9,1 l-5,-6 z"/>
<path d="M864,2288 l9,-2 l4,7 l-3,7 l-8,0 l-4,-6 z"/>
<path d="M886,2294 l12,-4 l9,6 l-2,11 l-12,3 l-8,-7 z"/>
<path d="M846,2301 l7,0 l3,6 l-4,5 l-6,-2 z"/>
<path d="M914,2312 l9,-2 l5,6 l-3,7 l-9,0 z"/>
<path d="M841,2321 l8,-2 l5,6 l-3,6 l-8,0 z"/>
<path d="M864,2322 l9,-2 l5,7 l-4,7 l-8,-1 l-3,-6 z"/>
<path d="M889,2321 l7,0 l3,6 l-4,5 l-6,-3 z"/>
<path d="M822,2281 l7,-2 l4,5 l-3,6 l-7,-1 z"/>
<path d="M906,2282 l6,-1 l3,5 l-3,4 l-6,-2 z"/>
</g>
<text x="871" y="2377" text-anchor="middle" font-size="27" textLength="92" lengthAdjust="spacingAndGlyphs">PROX1</text>
<text x="874" y="2412" text-anchor="middle" font-size="27" textLength="149" lengthAdjust="spacingAndGlyphs">Degradation</text>
<path d="M951,2304 Q1035,2295 1098,2222" stroke="#aaa" stroke-width="3" fill="none" stroke-dasharray="9 6" marker-end="url(#ahg)"/>
<circle cx="1034" cy="2263" r="12" fill="#eef3f9" stroke="#aaa" stroke-width="2.5"/>
<path d="M1025.5,2254.5 L1042.5,2271.5 M1042.5,2254.5 L1025.5,2271.5" stroke="#aaa" stroke-width="2.5"/>
<ellipse cx="1175" cy="2215" rx="58" ry="28" fill="none" stroke="#8aa2bc" stroke-width="2" stroke-dasharray="8 6"/>
<text x="1175" y="2225" text-anchor="middle" font-weight="bold" font-size="26" fill="#d2d6dc" textLength="92" lengthAdjust="spacingAndGlyphs">PROX1</text>
<g fill="none" stroke-linecap="round">
<path d="M1076,2253 q10.5,-28 21,0 t21,0 t21,0 t21,0 t21,0 t21,0 t21,0 t21,0 t21,0 t21,0 t21,0 t21,0" stroke="#4a3c9c" stroke-width="7"/>
<path d="M1087,2253 q10.5,-28 21,0 t21,0 t21,0 t21,0 t21,0 t21,0 t21,0 t21,0 t21,0 t21,0 t21,0 t21,0" stroke="#4a3c9c" stroke-width="7"/>
<path d="M1076,2253 q10.5,-28 21,0 t21,0 t21,0 t21,0 t21,0 t21,0 t21,0 t21,0 t21,0 t21,0 t21,0 t21,0" stroke="#c9c3ea" stroke-width="1.5"/>
<path d="M1087,2253 q10.5,-28 21,0 t21,0 t21,0 t21,0 t21,0 t21,0 t21,0 t21,0 t21,0 t21,0 t21,0 t21,0" stroke="#c9c3ea" stroke-width="1.5"/>
</g>
<path d="M1256,2240 V2214 H1294" stroke="#1f4e79" stroke-width="3" fill="none" marker-end="url(#ahb)"/>
<text x="1202" y="2296" text-anchor="middle" font-weight="bold" font-size="20" textLength="192" lengthAdjust="spacingAndGlyphs">BCAA metabolism</text>
<text x="1148" y="2325" font-weight="bold" font-size="20" textLength="82" lengthAdjust="spacingAndGlyphs">(BCAAs</text>
<path d="M1237,2307 V2320" stroke="#2a9a3a" stroke-width="3"/><path d="M1231,2318 L1243,2318 L1237,2327 z" fill="#2a9a3a"/>
<text x="1246" y="2325" font-weight="bold" font-size="20">)</text>
<path d="M1202,2333 V2364" stroke="#000" stroke-width="2.5" fill="none" marker-end="url(#ah)"/>
<text x="1195" y="2394" text-anchor="middle" font-size="27" textLength="233" lengthAdjust="spacingAndGlyphs">mTORC1 inhibition</text>
<path d="M1202,2410 V2442" stroke="#000" stroke-width="2.5" fill="none" marker-end="url(#ah)"/>
<text x="1194" y="2468" text-anchor="middle" font-weight="bold" font-size="30" textLength="302" lengthAdjust="spacingAndGlyphs">Tumour suppression</text>

<!-- right diagram -->
<text x="1424" y="2031" font-size="27" textLength="95" lengthAdjust="spacingAndGlyphs">Inactive</text>
<rect x="1529" y="2000" width="118" height="46" rx="9" fill="#f5cfc3" stroke="#e0a595" stroke-width="2"/>
<text x="1588" y="2033" text-anchor="middle" font-weight="bold" font-size="26" textLength="80" lengthAdjust="spacingAndGlyphs">AMPK</text>
<rect x="1785" y="2013" width="137" height="35" rx="7" fill="#efcde8" stroke="#e2b6da" stroke-width="2"/>
<text x="1853" y="2038" text-anchor="middle" font-weight="bold" font-size="20" fill="#a9a2aa" textLength="124" lengthAdjust="spacingAndGlyphs">CUL4-DDB1</text>
<path d="M1667,2037 Q1735,2060 1758,2119" stroke="#aaa" stroke-width="3" fill="none" stroke-dasharray="9 6" marker-end="url(#ahg)"/>
<circle cx="1720" cy="2066" r="12" fill="#fbf7f3" stroke="#aaa" stroke-width="2.5"/>
<path d="M1711.5,2057.5 L1728.5,2074.5 M1728.5,2057.5 L1711.5,2074.5" stroke="#aaa" stroke-width="2.5"/>
<path d="M1852,2059 Q1850,2100 1822,2128" stroke="#aaa" stroke-width="3" fill="none" stroke-dasharray="9 6" marker-end="url(#ahg)"/>
<circle cx="1845" cy="2088" r="12" fill="#fbf7f3" stroke="#aaa" stroke-width="2.5"/>
<path d="M1836.5,2079.5 L1853.5,2096.5 M1853.5,2079.5 L1836.5,2096.5" stroke="#aaa" stroke-width="2.5"/>
<rect x="1393" y="2105" width="148" height="45" rx="22" fill="#b03c5b" stroke="#6e1f36" stroke-width="2"/>
<text x="1467" y="2137" text-anchor="middle" font-weight="bold" font-size="26" textLength="124" lengthAdjust="spacingAndGlyphs">H3K4me3</text>
<rect x="1393" y="2158" width="148" height="45" rx="22" fill="#5c5cb8" stroke="#2e2e78" stroke-width="2"/>
<text x="1467" y="2190" text-anchor="middle" font-weight="bold" font-size="26" textLength="124" lengthAdjust="spacingAndGlyphs">H3K9me3</text>
<rect x="1393" y="2210" width="148" height="46" rx="22" fill="#3d9e9e" stroke="#1f5e5e" stroke-width="2"/>
<text x="1467" y="2243" text-anchor="middle" font-weight="bold" font-size="26" textLength="116" lengthAdjust="spacingAndGlyphs">H3K27ac</text>
<path d="M1553,2113 V2129" stroke="#2a9a3a" stroke-width="3"/><path d="M1547,2127 L1559,2127 L1553,2137 z" fill="#2a9a3a"/>
<path d="M1553,2192 V2174" stroke="#c0392b" stroke-width="3"/><path d="M1547,2176 L1559,2176 L1553,2165 z" fill="#c0392b"/>
<path d="M1553,2218 V2234" stroke="#2a9a3a" stroke-width="3"/><path d="M1547,2232 L1559,2232 L1553,2242 z" fill="#2a9a3a"/>
<ellipse cx="1776" cy="2168" rx="58" ry="29" fill="url(#el)" stroke="#1f3f78" stroke-width="2"/>
<text x="1776" y="2178" text-anchor="middle" font-weight="bold" font-size="26" textLength="92" lengthAdjust="spacingAndGlyphs">PROX1</text>
<text x="1801" y="2226" font-size="27" textLength="121" lengthAdjust="spacingAndGlyphs">Stabilized</text>
<path d="M1708,2172 Q1625,2190 1582,2256" stroke="#000" stroke-width="3" fill="none" marker-end="url(#ah)"/>
<path d="M1453,2256 V2318" stroke="#2d6e6e" stroke-width="2.5"/>
<g fill="none" stroke-linecap="round">
<path d="M1420,2329 q10.5,-30 21,0 t21,0 t21,0 t21,0 t21,0 t21,0 t21,0 t21,0 t21,0 t21,0 t21,0 t21,0" stroke="#4a3c9c" stroke-width="7"/>
<path d="M1431,2329 q10.5,-30 21,0 t21,0 t21,0 t21,0 t21,0 t21,0 t21,0 t21,0 t21,0 t21,0 t21,0 t21,0" stroke="#4a3c9c" stroke-width="7"/>
<path d="M1420,2329 q10.5,-30 21,0 t21,0 t21,0 t21,0 t21,0 t21,0 t21,0 t21,0 t21,0 t21,0 t21,0 t21,0" stroke="#c9c3ea" stroke-width="1.5"/>
<path d="M1431,2329 q10.5,-30 21,0 t21,0 t21,0 t21,0 t21,0 t21,0 t21,0 t21,0 t21,0 t21,0 t21,0 t21,0" stroke="#c9c3ea" stroke-width="1.5"/>
</g>
<ellipse cx="1527" cy="2299" rx="58" ry="28" fill="url(#el)" stroke="#1f3f78" stroke-width="2"/>
<text x="1527" y="2309" text-anchor="middle" font-weight="bold" font-size="26" textLength="92" lengthAdjust="spacingAndGlyphs">PROX1</text>
<path d="M1598,2318 V2291 H1663 M1663,2279 V2304" stroke="#d0202a" stroke-width="3" fill="none"/>
<text x="1780" y="2296" text-anchor="middle" font-weight="bold" font-size="20" textLength="193" lengthAdjust="spacingAndGlyphs">BCAA metabolism</text>
<text x="1724" y="2325" font-weight="bold" font-size="20" textLength="82" lengthAdjust="spacingAndGlyphs">(BCAAs</text>
<path d="M1813,2326 V2313" stroke="#c0392b" stroke-width="3"/><path d="M1807,2315 L1819,2315 L1813,2305 z" fill="#c0392b"/>
<text x="1822" y="2325" font-weight="bold" font-size="20">)</text>
<path d="M1779,2331 V2364" stroke="#000" stroke-width="2.5" fill="none" marker-end="url(#ah)"/>
<text x="1776" y="2394" text-anchor="middle" font-size="27" textLength="241" lengthAdjust="spacingAndGlyphs">mTORC1 activation</text>
<path d="M1779,2410 V2442" stroke="#000" stroke-width="2.5" fill="none" marker-end="url(#ah)"/>
<text x="1775" y="2468" text-anchor="middle" font-weight="bold" font-size="30" textLength="296" lengthAdjust="spacingAndGlyphs">Tumour progression</text>
</svg>
</body></html>
